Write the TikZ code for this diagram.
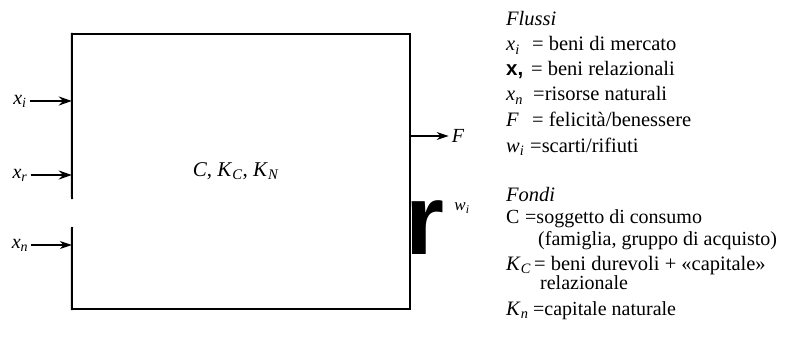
\documentclass[tikz,border=0pt]{standalone}
\usepackage{fontspec}
\setmainfont{Liberation Serif}
\setsansfont{Liberation Sans}
\newfontfamily\bigrfont{Liberation Sans}
\usetikzlibrary{arrows.meta}
\newcommand{\vs}[2]{\textit{#1}\textsubscript{\textit{#2}}}
\begin{document}
\begin{tikzpicture}[x=1pt,y=-1pt,
  boxedge/.style={line width=2pt,line cap=rect},
  arr/.style={line width=1.7pt,-{Stealth[length=13pt,width=9pt]}},
  thinarr/.style={line width=1.1pt,-{Stealth[length=12pt,width=8pt]}},
  inlbl/.style={font=\fontsize{20}{22}\selectfont,inner sep=3pt},
  leg/.style={anchor=base west,inner sep=0pt,font=\fontsize{20.5}{24}\selectfont},
  legsmall/.style={anchor=base west,inner sep=0pt,font=\fontsize{20}{24}\selectfont}]
\useasboundingbox (0,0) rectangle (804,337);
% box frame
\node[minimum width=338pt,minimum height=275pt,inner sep=0pt] (box) at (241,171.5) {};
\coordinate (gaptop) at (72,198);
\coordinate (gapbot) at (72,228);
\draw[boxedge] (box.north west) -- (box.north east);
\draw[boxedge] (box.north east) -- (box.south east);
\draw[boxedge] (box.south east) -- (box.south west);
\draw[boxedge] (box.north west) -- (gaptop);
\draw[boxedge] (gapbot) -- (box.south west);
% centre text
\node[font=\fontsize{21}{24}\selectfont] (ctext) at (236,171) {\textit{C}, \vs{K}{C}, \vs{K}{N}};
% inputs
\node[inlbl] (xi) at (20,101) {\vs{x}{i}};
\node[inlbl] (xr) at (20,175) {\vs{x}{r}};
\node[inlbl] (xn) at (20,245) {\vs{x}{n}};
\draw[arr] (xi) -- (xi.center -| box.west);
\draw[arr] (xr) -- (xr.center -| box.west);
\draw[thinarr] (xn) -- (xn.center -| box.west);
% outputs
\node[font=\fontsize{20}{24}\selectfont,inner sep=3pt] (F) at (458,136) {\textit{F}};
\draw[thinarr] (F.center -| box.east) -- (F);
\node[inner sep=0pt,anchor=base west,font=\bigrfont\bfseries\fontsize{100}{100}\selectfont] (bigr) at (405,254) {r};
\node[font=\fontsize{17}{18}\selectfont,inner sep=0pt] (wi) at (462,208) {\vs{w}{i}};
% legend: Flussi
\node[leg] (hflussi) at (506,26) {\textit{Flussi}};
\node[leg] (s1) at (506,51) {\vs{x}{i}};
\node[leg] (t1) at (532,51) {= beni di mercato};
\node[leg] (s2) at (506,76) {\textbf{\sffamily x,}};
\node[leg] (t2) at (531,76) {= beni relazionali};
\node[leg] (s3) at (506,101) {\vs{x}{n}};
\node[leg] (t3) at (533,101) {=risorse naturali};
\node[leg] (s4) at (506,127) {\textit{F}};
\node[leg] (t4) at (532,127) {= felicità/benessere};
\node[leg] (s5) at (506,152) {\vs{w}{i}};
\node[leg] (t5) at (530,152) {=scarti/rifiuti};
% legend: Fondi
\node[leg] (hfondi) at (506,201) {\textit{Fondi}};
\node[legsmall] (s6) at (506,223) {C};
\node[legsmall] (t6) at (525,223) {=soggetto di consumo};
\node[legsmall] (t6b) at (538,245) {(famiglia, gruppo di acquisto)};
\node[leg] (s7) at (506,270) {\vs{K}{C}};
\node[leg] (t7) at (534,270) {= beni durevoli + «capitale»};
\node[legsmall] (t7b) at (540,289) {relazionale};
\node[leg] (s8) at (506,315) {\vs{K}{n}};
\node[legsmall] (t8) at (533,315) {=capitale naturale};
\end{tikzpicture}
\end{document}
